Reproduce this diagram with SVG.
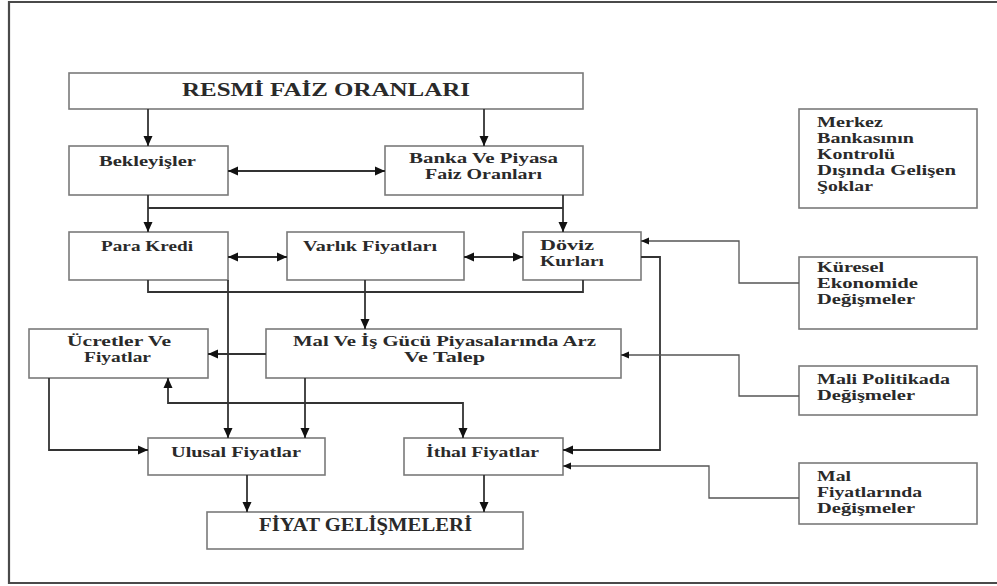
<svg xmlns="http://www.w3.org/2000/svg" width="997" height="586" viewBox="0 0 997 586">
<style>
.box{fill:#fff;stroke:#7a7a7a;stroke-width:1.6}
.t{font-family:"Liberation Serif","Times New Roman",serif;font-weight:bold;font-size:15px;fill:#2a2a2a}
.big{font-size:18px}
.c{fill:none;stroke:#333;stroke-width:1.8}
.thin{fill:none;stroke:#555;stroke-width:1.3}
.frame{fill:none;stroke:#4a4a4a;stroke-width:2.2}
</style>
<defs>
<marker id="ah" markerUnits="userSpaceOnUse" markerWidth="12" markerHeight="10" refX="10" refY="5" orient="auto-start-reverse">
<path d="M0,0.5 L10,5 L0,9.5 Z" fill="#111"/>
</marker>
<marker id="as" markerUnits="userSpaceOnUse" markerWidth="10" markerHeight="8" refX="8" refY="4" orient="auto-start-reverse">
<path d="M0,0.5 L8,4 L0,7.5 Z" fill="#111"/>
</marker>
</defs>
<rect width="997" height="586" fill="#fff"/>
<path class="frame" d="M997,2 H9 V583 H997"/>

<g id="n-resmi"><rect class="box" x="69" y="73" width="514" height="36"/><text class="t big" x="182" y="96" textLength="288" lengthAdjust="spacingAndGlyphs">RESMİ FAİZ ORANLARI</text></g>
<g id="n-bekleyisler"><rect class="box" x="69" y="146" width="159" height="49"/><text class="t" x="99" y="166" textLength="97" lengthAdjust="spacingAndGlyphs">Bekleyişler</text></g>
<g id="n-banka"><rect class="box" x="385" y="146" width="198" height="49"/><text class="t" x="409" y="163" textLength="149" lengthAdjust="spacingAndGlyphs">Banka Ve Piyasa</text><text class="t" x="425" y="179" textLength="117" lengthAdjust="spacingAndGlyphs">Faiz Oranları</text></g>
<g id="n-para"><rect class="box" x="69" y="232" width="159" height="48"/><text class="t" x="101" y="251" textLength="92" lengthAdjust="spacingAndGlyphs">Para Kredi</text></g>
<g id="n-varlik"><rect class="box" x="287" y="232" width="177" height="48"/><text class="t" x="303" y="251" textLength="134" lengthAdjust="spacingAndGlyphs">Varlık Fiyatları</text></g>
<g id="n-doviz"><rect class="box" x="523" y="232" width="118" height="48"/><text class="t" x="540" y="250" textLength="54" lengthAdjust="spacingAndGlyphs">Döviz</text><text class="t" x="540" y="266" textLength="64" lengthAdjust="spacingAndGlyphs">Kurları</text></g>
<g id="n-merkez"><rect class="box" x="799" y="109" width="178" height="99"/>
<text class="t" x="817" y="127" textLength="66" lengthAdjust="spacingAndGlyphs">Merkez</text>
<text class="t" x="817" y="143" textLength="97" lengthAdjust="spacingAndGlyphs">Bankasının</text>
<text class="t" x="817" y="159" textLength="78" lengthAdjust="spacingAndGlyphs">Kontrolü</text>
<text class="t" x="817" y="175" textLength="139" lengthAdjust="spacingAndGlyphs">Dışında Gelişen</text>
<text class="t" x="817" y="191" textLength="56" lengthAdjust="spacingAndGlyphs">Şoklar</text></g>
<g id="n-kuresel"><rect class="box" x="799" y="257" width="178" height="72"/>
<text class="t" x="817" y="272" textLength="67" lengthAdjust="spacingAndGlyphs">Küresel</text>
<text class="t" x="817" y="288" textLength="101" lengthAdjust="spacingAndGlyphs">Ekonomide</text>
<text class="t" x="817" y="304" textLength="98" lengthAdjust="spacingAndGlyphs">Değişmeler</text></g>
<g id="n-ucretler"><rect class="box" x="29" y="329" width="179" height="49"/><text class="t" x="67" y="346" textLength="104" lengthAdjust="spacingAndGlyphs">Ücretler Ve</text><text class="t" x="84" y="362" textLength="67" lengthAdjust="spacingAndGlyphs">Fiyatlar</text></g>
<g id="n-mal"><rect class="box" x="266" y="329" width="355" height="49"/><text class="t" x="293" y="346" textLength="303" lengthAdjust="spacingAndGlyphs">Mal Ve İş Gücü Piyasalarında Arz</text><text class="t" x="404" y="362" textLength="81" lengthAdjust="spacingAndGlyphs">Ve Talep</text></g>
<g id="n-mali"><rect class="box" x="799" y="366" width="178" height="49"/><text class="t" x="817" y="384" textLength="133" lengthAdjust="spacingAndGlyphs">Mali Politikada</text><text class="t" x="817" y="400" textLength="98" lengthAdjust="spacingAndGlyphs">Değişmeler</text></g>
<g id="n-ulusal"><rect class="box" x="148" y="438" width="177" height="37"/><text class="t" x="171" y="457" textLength="130" lengthAdjust="spacingAndGlyphs">Ulusal Fiyatlar</text></g>
<g id="n-ithal"><rect class="box" x="404" y="438" width="159" height="37"/><text class="t" x="426" y="457" textLength="113" lengthAdjust="spacingAndGlyphs">İthal Fiyatlar</text></g>
<g id="n-malfiyat"><rect class="box" x="799" y="463" width="178" height="61"/>
<text class="t" x="817" y="481" textLength="34" lengthAdjust="spacingAndGlyphs">Mal</text>
<text class="t" x="817" y="497" textLength="105" lengthAdjust="spacingAndGlyphs">Fiyatlarında</text>
<text class="t" x="817" y="513" textLength="98" lengthAdjust="spacingAndGlyphs">Değişmeler</text></g>
<g id="n-fiyat"><rect class="box" x="207" y="512" width="316" height="37"/><text class="t big" x="259" y="531" textLength="213" lengthAdjust="spacingAndGlyphs">FİYAT GELİŞMELERİ</text></g>

<g id="connectors">
<path class="c" d="M148,109 V146" marker-end="url(#ah)"/>
<path class="c" d="M484,109 V146" marker-end="url(#ah)"/>
<path class="c" d="M228,171 H385" marker-start="url(#ah)" marker-end="url(#ah)"/>
<path class="c" d="M148,195 V232" marker-end="url(#ah)"/>
<path class="c" d="M148,208 H563"/>
<path class="c" d="M563,195 V232" marker-end="url(#ah)"/>
<path class="c" d="M228,257 H287" marker-start="url(#ah)" marker-end="url(#ah)"/>
<path class="c" d="M464,257 H523" marker-start="url(#ah)" marker-end="url(#ah)"/>
<path class="c" d="M148,280 V292 H583 V280"/>
<path class="c" d="M365,280 V329" marker-end="url(#ah)"/>
<path class="c" d="M228,280 V438" marker-end="url(#ah)"/>
<path class="c" d="M266,354 H208" marker-end="url(#ah)"/>
<path class="c" d="M305,378 V438" marker-end="url(#ah)"/>
<path class="c" d="M168,378 V403 H463 V438" marker-start="url(#ah)" marker-end="url(#ah)"/>
<path class="c" d="M49,378 V450 H148" marker-end="url(#ah)"/>
<path class="c" d="M641,257 H660 V450 H563" marker-end="url(#ah)"/>
<path class="thin" d="M799,283 H739 V241 H641" marker-end="url(#as)"/>
<path class="thin" d="M799,396 H739 V355 H621" marker-end="url(#as)"/>
<path class="thin" d="M799,498 H709 V466 H563" marker-end="url(#as)"/>
<path class="c" d="M247,475 V512" marker-end="url(#ah)"/>
<path class="c" d="M484,475 V512" marker-end="url(#ah)"/>
</g>
</svg>
